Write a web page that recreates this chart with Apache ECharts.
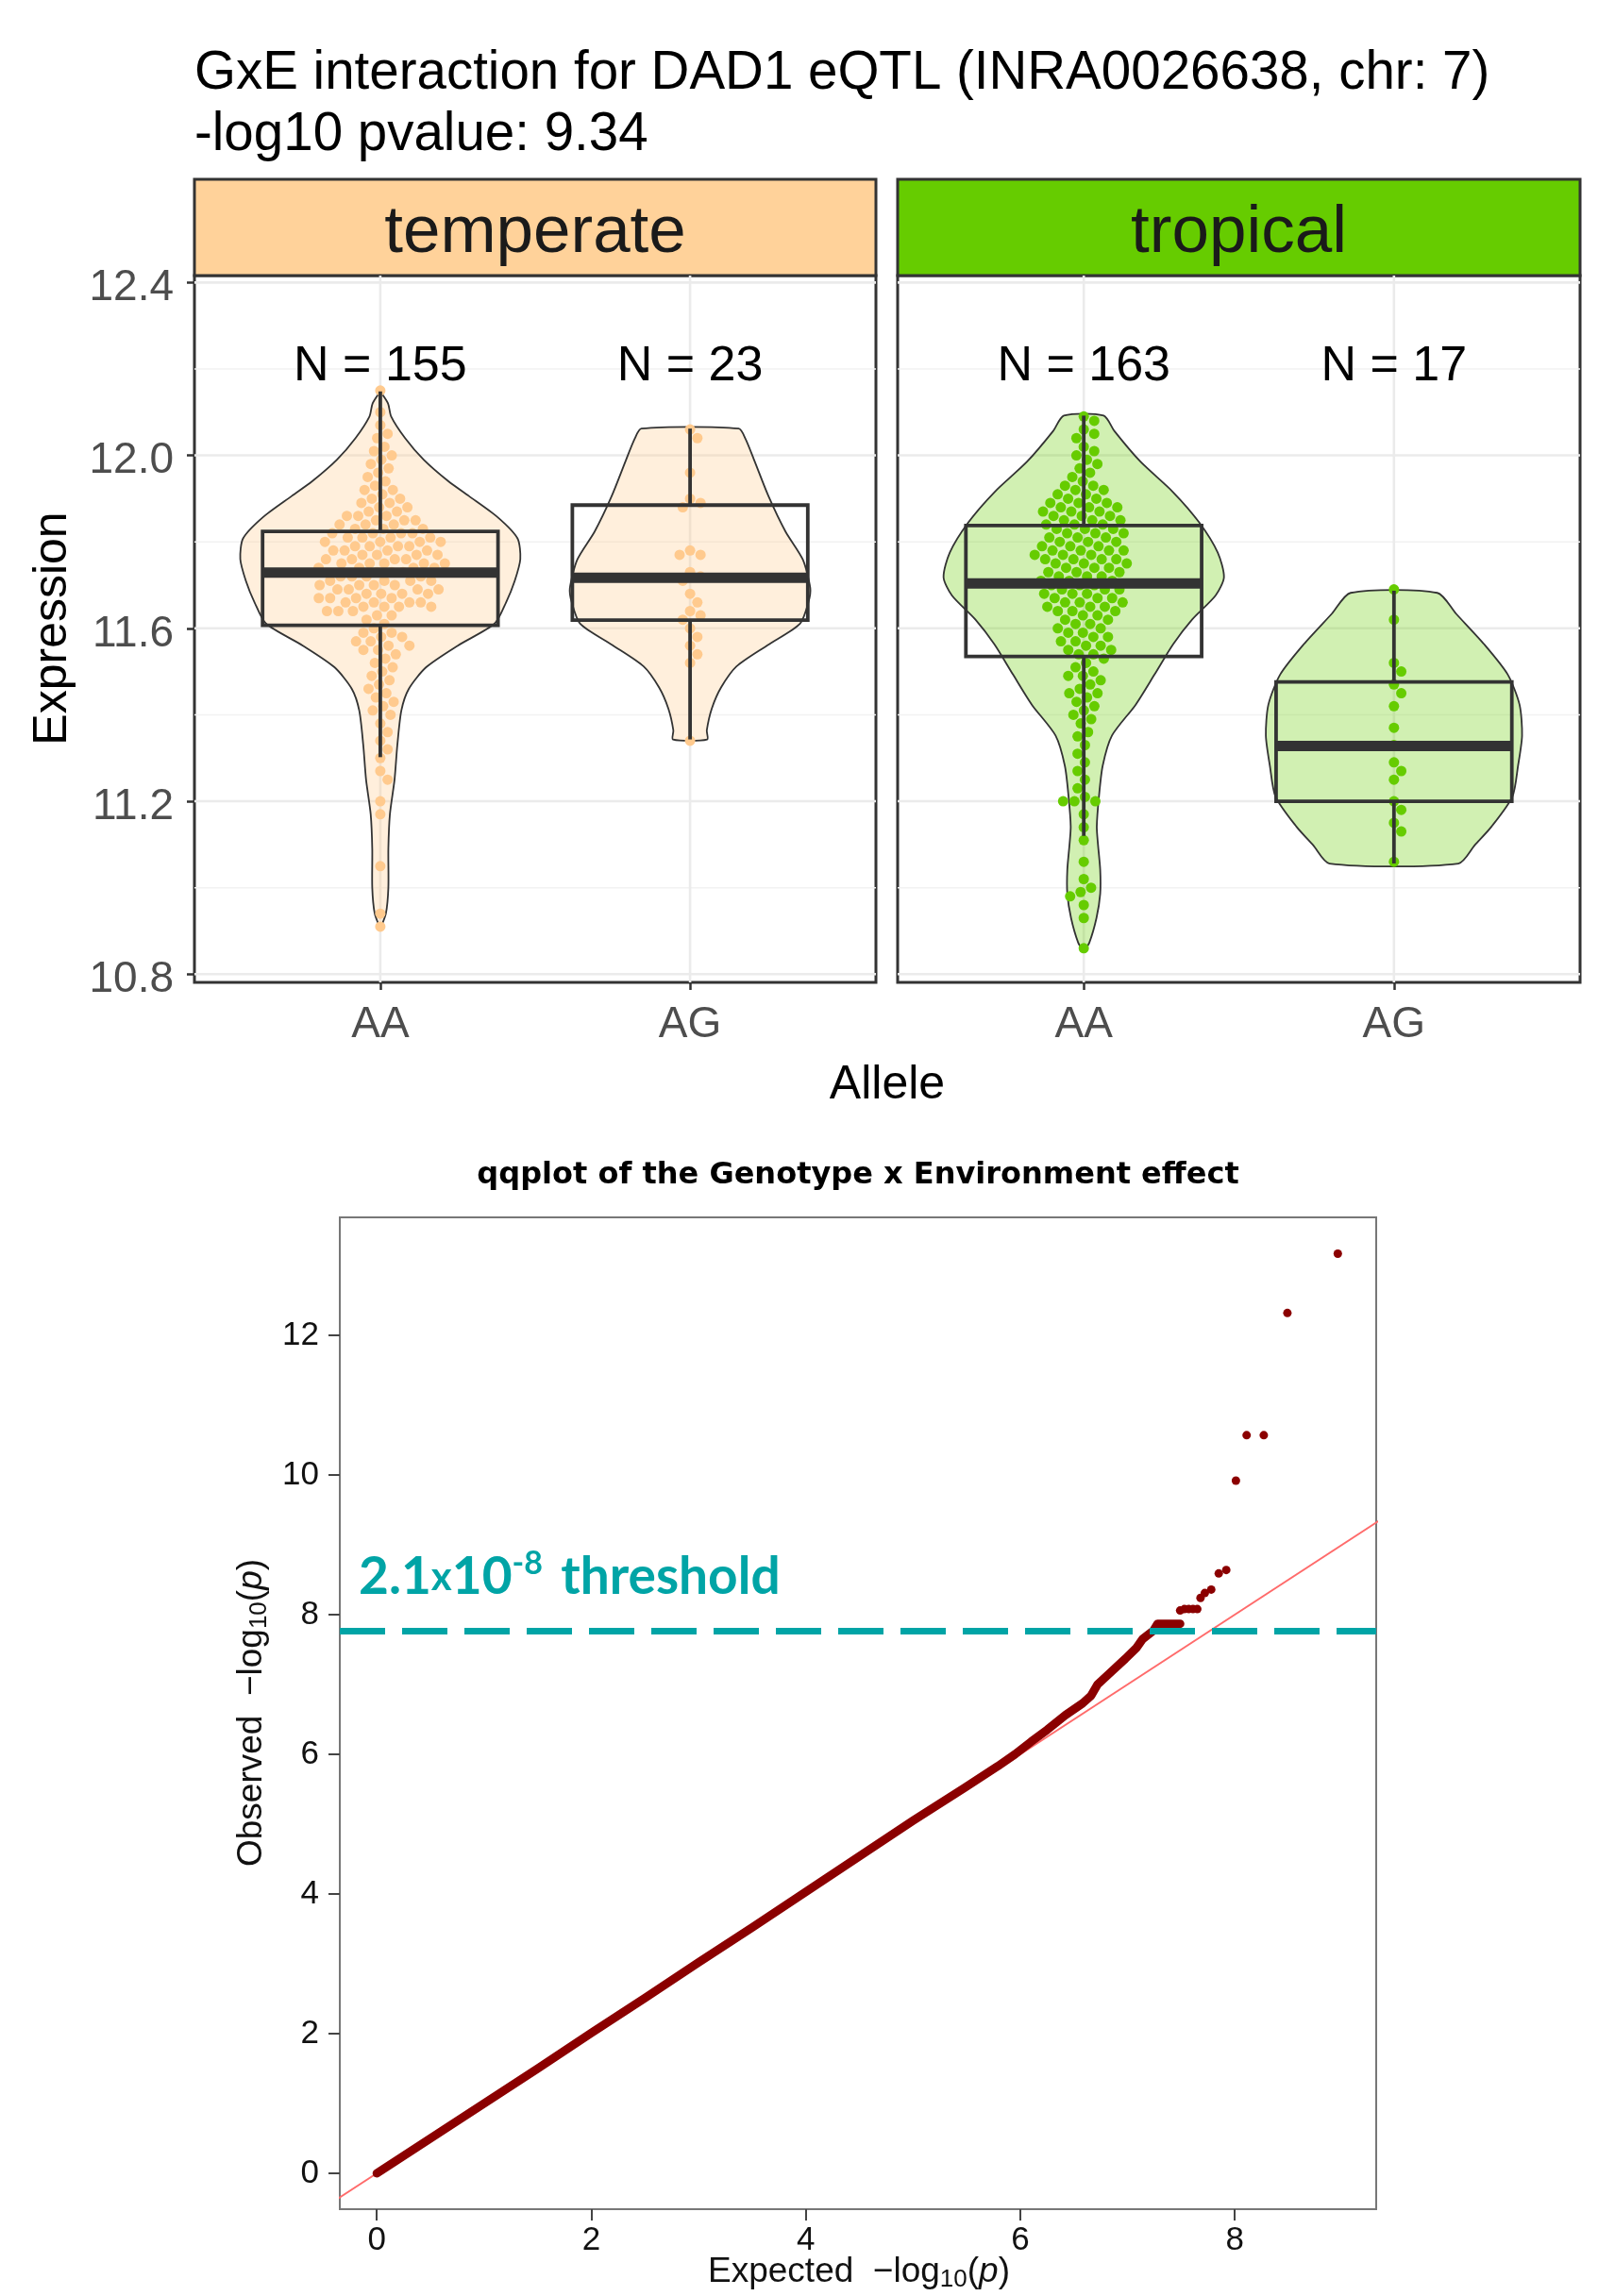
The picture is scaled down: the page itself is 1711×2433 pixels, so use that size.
<!DOCTYPE html>
<html>
<head>
<meta charset="utf-8">
<script src="https://cdn.jsdelivr.net/npm/echarts@6/dist/echarts.min.js"></script>
<style>html,body{margin:0;padding:0;background:#fff}#c{width:1711px;height:2433px}</style>
</head>
<body>
<div id="c"></div>
<script>
// ---------------- DATA ----------------
const alleles = ['AA', 'AG'];
const environments = ['temperate', 'tropical'];
const temperateN = [155, 23];
const tropicalN = [163, 17];
const exprTicks = [10.8, 11.2, 11.6, 12.0, 12.4];
const exprMinorTicks = [11.0, 11.4, 11.8, 12.2];

// boxplot stats: [lower whisker, Q1, median, Q3, upper whisker]
const temperateBoxes = [
  [11.302, 11.607, 11.729, 11.824, 12.148],
  [11.343, 11.619, 11.717, 11.885, 12.062]
];
const tropicalBoxes = [
  [11.120, 11.535, 11.704, 11.838, 12.092],
  [11.056, 11.200, 11.328, 11.476, 11.687]
];

// violin outlines: [expression, half width in category units]
const temperateAAViolin = [[12.148,0.0],[12.12,0.025],[12.09,0.035],[12.04,0.08],[11.99,0.14],[11.94,0.22],[11.906,0.286],[11.857,0.379],[11.808,0.443],[11.76,0.452],[11.71,0.434],[11.66,0.406],[11.611,0.369],[11.56,0.25],[11.51,0.148],[11.46,0.092],[11.41,0.068],[11.33,0.055],[11.25,0.046],[11.17,0.031],[11.09,0.026],[11.0,0.026],[10.94,0.018],[10.905,0.0]];
const temperateAGViolin = [[12.062,0.157],[12.038,0.179],[11.989,0.207],[11.906,0.253],[11.824,0.308],[11.759,0.364],[11.693,0.388],[11.66,0.382],[11.611,0.355],[11.561,0.25],[11.512,0.15],[11.463,0.1],[11.414,0.07],[11.364,0.054],[11.343,0.055]];
const tropicalAAViolin = [[12.092,0.064],[12.056,0.099],[11.986,0.182],[11.915,0.288],[11.845,0.372],[11.775,0.432],[11.718,0.452],[11.676,0.425],[11.62,0.349],[11.563,0.288],[11.493,0.228],[11.423,0.167],[11.352,0.091],[11.282,0.061],[11.211,0.049],[11.141,0.042],[11.099,0.046],[11.042,0.053],[10.986,0.053],[10.93,0.041],[10.873,0.018],[10.852,0.0]];
const tropicalAGViolin = [[11.682,0.14],[11.634,0.2],[11.563,0.291],[11.493,0.367],[11.423,0.405],[11.352,0.413],[11.282,0.4],[11.211,0.382],[11.141,0.314],[11.099,0.261],[11.056,0.208]];

// individual samples (expression)
const temperateAAPoints = [12.15,12.10,12.07,12.05,12.04,12.02,12.01,12.00,11.99,11.98,11.97,11.96,11.95,11.94,11.93,11.92,11.92,11.91,11.90,11.90,11.89,11.89,11.88,11.88,11.87,11.87,11.86,11.86,11.86,11.85,11.85,11.85,11.84,11.84,11.84,11.83,11.83,11.83,
 11.82,11.82,11.82,11.82,11.81,11.81,11.81,11.81,11.80,11.80,11.80,11.80,11.79,11.79,11.79,11.79,11.78,11.78,11.78,11.78,11.77,11.77,11.77,11.77,11.76,11.76,11.76,11.76,11.75,11.75,11.75,11.75,11.75,11.74,11.74,11.74,11.74,11.73,11.73,11.73,
 11.72,11.72,11.72,11.72,11.71,11.71,11.71,11.71,11.70,11.70,11.70,11.70,11.69,11.69,11.69,11.69,11.68,11.68,11.68,11.68,11.67,11.67,11.67,11.67,11.66,11.66,11.66,11.66,11.65,11.65,11.65,11.65,11.64,11.64,11.64,11.63,11.63,11.62,11.61,
 11.60,11.59,11.59,11.58,11.58,11.57,11.57,11.56,11.56,11.55,11.55,11.54,11.53,11.52,11.51,11.50,11.49,11.48,11.47,11.46,11.45,11.44,11.43,11.42,11.41,11.40,11.38,11.36,11.34,11.32,11.30,11.27,11.25,11.20,11.17,11.05,10.94,10.91];
const temperateAGPoints = [12.06,12.04,11.96,11.90,11.89,11.88,11.78,11.77,11.77,11.73,11.72,11.71,11.68,11.66,11.64,11.63,11.62,11.60,11.58,11.56,11.54,11.52,11.34];
const tropicalAAPoints = [12.09,12.08,12.06,12.05,12.04,12.02,12.01,12.00,11.99,11.98,11.97,11.96,11.95,11.94,11.93,11.93,11.92,11.92,11.91,11.91,11.90,11.90,11.89,11.89,11.89,11.88,11.88,11.88,11.87,11.87,11.87,11.86,11.86,11.86,11.85,11.85,11.85,11.84,11.84,11.84,
 11.83,11.83,11.83,11.82,11.82,11.82,11.81,11.81,11.81,11.80,11.80,11.80,11.79,11.79,11.79,11.78,11.78,11.78,11.78,11.77,11.77,11.77,11.76,11.76,11.76,11.76,11.75,11.75,11.75,11.74,11.74,11.74,11.73,11.73,11.73,11.72,11.72,11.72,11.71,11.71,11.71,
 11.70,
 11.70,11.70,11.69,11.69,11.69,11.68,11.68,11.68,11.67,11.67,11.67,11.66,11.66,11.66,11.65,11.65,11.65,11.64,11.64,11.64,11.63,11.63,11.62,11.62,11.61,11.61,11.60,11.60,11.59,11.59,11.58,11.58,11.57,11.57,11.56,11.56,11.55,11.55,11.54,11.54,
 11.53,11.52,11.51,11.50,11.49,11.49,11.48,11.47,11.46,11.45,11.45,11.44,11.43,11.42,11.41,11.40,11.39,11.38,11.36,11.35,11.33,11.31,11.29,11.27,11.25,11.23,11.21,11.20,11.20,11.20,11.17,11.14,11.11,11.06,11.02,11.00,10.99,10.98,10.96,10.93,10.86];
const tropicalAGPoints = [11.69,11.62,11.52,11.50,11.47,11.45,11.42,11.37,11.33,11.29,11.27,11.25,11.20,11.18,11.15,11.13,11.06];

// QQ plot
const qqXTicks = [0, 2, 4, 6, 8];
const qqYTicks = [0, 2, 4, 6, 8, 10, 12];
const qqDense = [[0,0],[0.5,0.5],[1,1],[1.5,1.5],[2,2.01],[2.5,2.51],[3,3.02],[3.5,3.52],[4,4.03],[4.5,4.54],[5,5.05],[5.48,5.52],[5.79,5.83],[5.95,6.0],[6.1,6.18],[6.25,6.35],[6.42,6.56],[6.58,6.73],[6.66,6.84],[6.72,7.0],[6.86,7.2],[6.98,7.37],[7.08,7.52],[7.14,7.65],[7.24,7.77],[7.28,7.87],[7.49,7.87]];
const qqTail = [[7.49,8.06],[7.53,8.08],[7.57,8.08],[7.61,8.08],[7.65,8.08],[7.68,8.24],[7.72,8.31],[7.78,8.36],[7.85,8.59],[7.92,8.64],[8.01,9.92],[8.11,10.57],[8.27,10.57],[8.49,12.32],[8.96,13.17]];
const qqReference = [[-1,-1],[10,10]];
const qqThreshold = 7.77;

// ---------------- LAYOUT ----------------
const SANS = "'Liberation Sans', Arial, sans-serif";
const P = {top: 292, h: 749, tL: 206, tW: 722, pL: 951, pW: 723};
const QQ = {left: 360, top: 1290, w: 1098, h: 1051};
const X_MIN = 0.4, X_MAX = 2.6, Y_MIN = 10.781, Y_MAX = 12.416;
const BOX_HALF = 0.38;
const N_LABEL_Y = 12.204;
const COLORS = {
  temperate: {strip: '#FFD29A', fill: 'rgba(255,205,145,0.32)', dot: '#FFCA8E'},
  tropical: {strip: '#66CC00', fill: 'rgba(102,204,0,0.30)', dot: '#66CC00'}
};
const TEAL = '#00A4A6';

// beeswarm layout (pixel space)
function swarm(values, sy, d) {
  const idx = values.map((v, i) => i).sort((a, b) => values[b] - values[a]);
  const placed = [];
  const offs = new Array(values.length);
  for (const i of idx) {
    const y = values[i] * sy;
    const cands = [0];
    for (const p of placed) {
      const dy = Math.abs(p.y - y);
      if (dy < d) { const dx = Math.sqrt(d * d - dy * dy); cands.push(p.x + dx, p.x - dx); }
    }
    cands.sort((a, b) => Math.abs(a) - Math.abs(b));
    let best = 0;
    for (const c of cands) {
      let ok = true;
      for (const p of placed) {
        const dx = p.x - c, dy = p.y - y;
        if (dx * dx + dy * dy < d * d - 0.01) { ok = false; break; }
      }
      if (ok) { best = c; break; }
    }
    placed.push({x: best, y});
    offs[i] = best;
  }
  return offs;
}
function swarmData(values, xc, panelW) {
  const sx = panelW / (X_MAX - X_MIN), sy = P.h / (Y_MAX - Y_MIN);
  const offs = swarm(values, sy, 12);
  return values.map((v, i) => [xc + offs[i] / sx, v]);
}

const panels = [
  {env: 'temperate', grid: 0, N: temperateN, boxes: temperateBoxes, violins: [temperateAAViolin, temperateAGViolin], points: [temperateAAPoints, temperateAGPoints], w: P.tW},
  {env: 'tropical', grid: 1, N: tropicalN, boxes: tropicalBoxes, violins: [tropicalAAViolin, tropicalAGViolin], points: [tropicalAAPoints, tropicalAGPoints], w: P.pW}
];

const series = [];
panels.forEach(pn => {
  const col = COLORS[pn.env];
  const gi = pn.grid;
  const gl = [];
  exprTicks.forEach(v => gl.push([0, v]));
  exprMinorTicks.forEach(v => gl.push([1, v]));
  alleles.forEach((a, i) => gl.push([2, i + 1]));
  series.push({
    type: 'custom', xAxisIndex: gi, yAxisIndex: gi, z: 1, silent: true, clip: false,
    data: gl,
    renderItem(params, api) {
      const cs = params.coordSys;
      const kind = api.value(0), v = api.value(1);
      if (kind === 2) {
        const x = api.coord([v, Y_MIN])[0];
        return {type: 'line', shape: {x1: x, y1: cs.y, x2: x, y2: cs.y + cs.height}, style: {stroke: '#EBEBEB', lineWidth: 2.6}};
      }
      const y = api.coord([X_MIN, v])[1];
      return {type: 'line', shape: {x1: cs.x, y1: y, x2: cs.x + cs.width, y2: y},
        style: {stroke: kind === 0 ? '#EBEBEB' : '#F2F2F2', lineWidth: kind === 0 ? 2.6 : 1.4}};
    }
  });
  series.push({
    type: 'custom', xAxisIndex: gi, yAxisIndex: gi, z: 2, silent: true,
    data: pn.violins.map((v, i) => [i + 1, i]),
    renderItem(params, api) {
      const xc = api.value(0), prof = pn.violins[api.value(1)];
      const right = prof.map(p => api.coord([xc + p[1], p[0]]));
      const left = prof.slice().reverse().map(p => api.coord([xc - p[1], p[0]]));
      return {type: 'polygon', shape: {points: right.concat(left), smooth: 0.25},
        style: {fill: col.fill, stroke: '#333333', lineWidth: 1.8}};
    }
  });
  pn.points.forEach((vals, i) => {
    series.push({
      type: 'scatter', xAxisIndex: gi, yAxisIndex: gi, z: 3, silent: true,
      symbolSize: 11, itemStyle: {color: col.dot, opacity: 1},
      data: swarmData(vals, i + 1, pn.w)
    });
  });
  series.push({
    type: 'custom', xAxisIndex: gi, yAxisIndex: gi, z: 4, silent: true,
    data: pn.boxes.map((b, i) => [i + 1].concat(b)),
    renderItem(params, api) {
      const x = api.value(0);
      const lo = api.value(1), q1 = api.value(2), med = api.value(3), q3 = api.value(4), hi = api.value(5);
      const tl = api.coord([x - BOX_HALF, q3]), br = api.coord([x + BOX_HALF, q1]);
      const m1 = api.coord([x - BOX_HALF, med]), m2 = api.coord([x + BOX_HALF, med]);
      const cTop = api.coord([x, hi]), cLo = api.coord([x, lo]);
      const st = {stroke: '#333333', lineWidth: 3.8, fill: null};
      return {type: 'group', children: [
        {type: 'line', shape: {x1: cTop[0], y1: cTop[1], x2: cTop[0], y2: tl[1]}, style: st},
        {type: 'line', shape: {x1: cLo[0], y1: br[1], x2: cLo[0], y2: cLo[1]}, style: st},
        {type: 'rect', shape: {x: tl[0], y: tl[1], width: br[0] - tl[0], height: br[1] - tl[1]}, style: {stroke: '#333333', lineWidth: 3.8, fill: 'none'}},
        {type: 'line', shape: {x1: m1[0], y1: m1[1], x2: m2[0], y2: m2[1]}, style: {stroke: '#333333', lineWidth: 11}}
      ]};
    }
  });
  series.push({
    type: 'custom', xAxisIndex: gi, yAxisIndex: gi, z: 5, silent: true, clip: false,
    data: pn.N.map((n, i) => [i + 1, n]),
    renderItem(params, api) {
      const p = api.coord([api.value(0), N_LABEL_Y]);
      return {type: 'text', x: p[0], y: p[1], style: {text: 'N = ' + api.value(1), fill: '#000', font: '52px ' + SANS, align: 'center', verticalAlign: 'middle'}};
    }
  });
});

series.push({
  name: 'reference', type: 'line', xAxisIndex: 2, yAxisIndex: 2, z: 2, clip: true, silent: true,
  showSymbol: false, symbol: 'none', data: qqReference,
  lineStyle: {color: '#FF6B6B', width: 1.8},
  markLine: {silent: true, symbol: 'none', label: {show: false},
    lineStyle: {color: TEAL, width: 7, type: [48, 18], opacity: 1},
    data: [{yAxis: qqThreshold}]}
});
series.push({
  name: 'observed', type: 'line', xAxisIndex: 2, yAxisIndex: 2, z: 3, silent: true,
  showSymbol: false, symbol: 'none', data: qqDense,
  lineStyle: {color: '#8B0000', width: 9, cap: 'round', join: 'round'}
});
series.push({
  name: 'observed tail', type: 'scatter', xAxisIndex: 2, yAxisIndex: 2, z: 3, silent: true,
  symbolSize: 9, itemStyle: {color: '#8B0000', opacity: 1}, data: qqTail
});

function exprX(gi) {
  return {type: 'value', gridIndex: gi, min: X_MIN, max: X_MAX,
    axisLine: {show: false, onZero: false}, splitLine: {show: false},
    axisTick: {show: true, customValues: [1, 2], length: 8, lineStyle: {color: '#333333', width: 2.5}},
    axisLabel: {show: true, customValues: [1, 2], formatter: v => alleles[Math.round(v) - 1], fontSize: 46, fontFamily: SANS, color: '#4D4D4D', margin: 22}};
}
function exprY(gi, showLbl) {
  return {type: 'value', gridIndex: gi, min: Y_MIN, max: Y_MAX,
    axisLine: {show: false, onZero: false}, splitLine: {show: false},
    axisTick: {show: showLbl, customValues: exprTicks, length: 8, lineStyle: {color: '#333333', width: 2.5}},
    axisLabel: {show: showLbl, customValues: exprTicks, formatter: v => v.toFixed(1), fontSize: 46, fontFamily: SANS, color: '#4D4D4D', margin: 22, verticalAlign: 'top', lineHeight: 12}};
}

const QF = "'Liberation Sans', Arial, sans-serif";
const rich = {
  n: {fontSize: 37, fontFamily: QF, fill: '#111'},
  sub: {fontSize: 26, fontFamily: QF, fill: '#111', padding: [16, 0, 0, 0]},
  it: {fontSize: 37, fontFamily: QF, fontStyle: 'italic', fill: '#111'}
};

const option = {
  animation: false,
  backgroundColor: '#ffffff',
  grid: [
    {left: P.tL, top: P.top, width: P.tW, height: P.h, show: true, borderColor: '#333333', borderWidth: 3, backgroundColor: 'transparent', containLabel: false},
    {left: P.pL, top: P.top, width: P.pW, height: P.h, show: true, borderColor: '#333333', borderWidth: 3, backgroundColor: 'transparent', containLabel: false},
    {left: QQ.left, top: QQ.top, width: QQ.w, height: QQ.h, show: true, borderColor: '#777777', borderWidth: 2, backgroundColor: 'transparent', containLabel: false}
  ],
  xAxis: [exprX(0), exprX(1),
    {type: 'value', gridIndex: 2, min: -0.345, max: 9.318, axisLine: {show: false, onZero: false}, splitLine: {show: false},
      axisTick: {show: true, customValues: qqXTicks, length: 12, lineStyle: {color: '#444', width: 2}},
      axisLabel: {show: true, customValues: qqXTicks, fontSize: 35, fontFamily: SANS, color: '#111', margin: 16}}],
  yAxis: [exprY(0, true), exprY(1, false),
    {type: 'value', gridIndex: 2, min: -0.514, max: 13.69, axisLine: {show: false, onZero: false}, splitLine: {show: false},
      axisTick: {show: true, customValues: qqYTicks, length: 12, lineStyle: {color: '#444', width: 2}},
      axisLabel: {show: true, customValues: qqYTicks, fontSize: 35, fontFamily: SANS, color: '#111', margin: 22}}],
  graphic: [
    {type: 'text', x: 206, y: 78, style: {text: 'GxE interaction for DAD1 eQTL (INRA0026638, chr: 7)', font: '56.5px ' + SANS, fill: '#000', verticalAlign: 'middle'}},
    {type: 'text', x: 206, y: 143, style: {text: '-log10 pvalue: 9.34', font: '56.5px ' + SANS, fill: '#000', verticalAlign: 'middle'}},
    {type: 'rect', shape: {x: P.tL, y: 190, width: P.tW, height: 102}, style: {fill: COLORS.temperate.strip, stroke: '#333333', lineWidth: 3}},
    {type: 'rect', shape: {x: P.pL, y: 190, width: P.pW, height: 102}, style: {fill: COLORS.tropical.strip, stroke: '#333333', lineWidth: 3}},
    {type: 'text', x: P.tL + P.tW / 2, y: 247, style: {text: environments[0], font: '71px ' + SANS, fill: '#1A1A1A', align: 'center', verticalAlign: 'middle'}},
    {type: 'text', x: P.pL + P.pW / 2, y: 247, style: {text: environments[1], font: '71px ' + SANS, fill: '#1A1A1A', align: 'center', verticalAlign: 'middle'}},
    {type: 'text', x: 56, y: 666, rotation: Math.PI / 2, style: {text: 'Expression', font: '50px ' + SANS, fill: '#000', align: 'center', verticalAlign: 'middle'}},
    {type: 'text', x: 940, y: 1150, style: {text: 'Allele', font: '50px ' + SANS, fill: '#000', align: 'center', verticalAlign: 'middle'}},
    {type: 'text', x: 909, y: 1246, style: {text: 'qqplot of the Genotype x Environment effect', font: "bold 32px 'DejaVu Sans', sans-serif", fill: '#000', align: 'center', verticalAlign: 'middle'}},
    {type: 'text', x: 910, y: 2408, style: {text: '{n|Expected  \u2212log}{sub|10}{n|(}{it|p}{n|)}', rich: rich, align: 'center', verticalAlign: 'middle'}},
    {type: 'text', x: 267, y: 1815, rotation: Math.PI / 2, style: {text: '{n|Observed  \u2212log}{sub|10}{n|(}{it|p}{n|)}', rich: rich, align: 'center', verticalAlign: 'middle'}},
    {type: 'text', x: 380, y: 1671, z: 10, style: {
      text: '{a|2.1}{x|x}{a|10}{s|-8}{a| threshold}',
      rich: {
        a: {fontSize: 55, fontWeight: 'bold', fontFamily: 'Lato, sans-serif', fill: TEAL},
        x: {fontSize: 42, fontWeight: 'bold', fontFamily: 'Lato, sans-serif', fill: TEAL},
        s: {fontSize: 34, fontWeight: 'bold', fontFamily: 'Lato, sans-serif', fill: TEAL, padding: [0, 6, 28, 0]}
      },
      align: 'left', verticalAlign: 'middle'}}
  ],
  series: series
};

const chart = echarts.init(document.getElementById('c'), null, {renderer: 'canvas', width: 1711, height: 2433});
chart.setOption(option);
</script>
</body>
</html>
